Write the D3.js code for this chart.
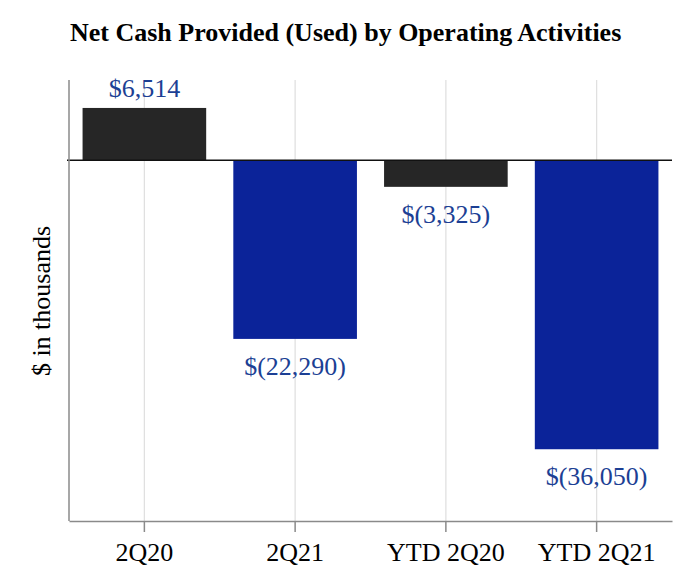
<!DOCTYPE html>
<html><head><meta charset="utf-8">
<script src="https://cdn.jsdelivr.net/npm/d3@7"></script>
<style>body{margin:0;background:#fff}</style>
</head><body>
<svg id="c" width="692" height="586"></svg>
<script>
const categories = ["2Q20", "2Q21", "YTD 2Q20", "YTD 2Q21"];
const values = [6514, -22290, -3325, -36050];
const labels = ["$6,514", "$(22,290)", "$(3,325)", "$(36,050)"];
const barColors = ["#262626", "#0b2399", "#262626", "#0b2399"];

const svg = d3.select("#c");
const font = "'Liberation Serif','Times New Roman',serif";
const L = 69, R = 672, T = 80, B = 521;

const x = d3.scaleBand().domain(categories).range([L, R]).paddingInner(0.18).paddingOuter(0.09);
const y = d3.scaleLinear().domain([-45000, 10000]).range([B, T]);

// gridlines
svg.append("g").selectAll("line").data(categories).join("line")
  .attr("x1", d => x(d) + x.bandwidth()/2).attr("x2", d => x(d) + x.bandwidth()/2)
  .attr("y1", T).attr("y2", B).attr("stroke", "#e0e0e0").attr("stroke-width", 1.3);

// bars
svg.append("g").selectAll("rect").data(values).join("rect")
  .attr("x", (d,i) => x(categories[i]))
  .attr("width", x.bandwidth())
  .attr("y", d => y(Math.max(0, d)))
  .attr("height", d => Math.abs(y(d) - y(0)))
  .attr("fill", (d,i) => barColors[i]);

// zero line
svg.append("line").attr("x1", L - 2).attr("x2", R).attr("y1", y(0)).attr("y2", y(0))
  .attr("stroke", "#111").attr("stroke-width", 1.5);

// left axis
svg.append("line").attr("x1", L).attr("x2", L).attr("y1", T).attr("y2", B)
  .attr("stroke", "#8a8a8a").attr("stroke-width", 1.5);

// bottom axis
const xAxis = d3.axisBottom(x).tickSize(11).tickSizeOuter(0).tickPadding(11);
const gx = svg.append("g").attr("transform", `translate(0,${B})`).call(xAxis);
gx.select(".domain").attr("stroke", "#8a8a8a").attr("stroke-width", 1.5);
gx.selectAll(".tick line").attr("stroke", "#8a8a8a").attr("stroke-width", 1.5);
gx.selectAll(".tick text").attr("font-family", font).attr("font-size", 26).attr("fill", "#000");

// value labels
svg.append("g").selectAll("text").data(values).join("text")
  .attr("x", (d,i) => x(categories[i]) + x.bandwidth()/2)
  .attr("y", d => d >= 0 ? y(d) - 11 : y(d) + 36)
  .attr("text-anchor", "middle")
  .attr("font-family", font).attr("font-size", 26).attr("fill", "#1c3f94")
  .text((d,i) => labels[i]);

// title
svg.append("text").attr("x", 70).attr("y", 41)
  .attr("font-family", font).attr("font-size", 26).attr("font-weight", "bold").attr("fill", "#000")
  .text("Net Cash Provided (Used) by Operating Activities");

// y label
svg.append("text").attr("transform", "translate(50,301) rotate(-90)")
  .attr("text-anchor", "middle")
  .attr("font-family", font).attr("font-size", 26).attr("fill", "#000")
  .text("$ in thousands");
</script>
</body></html>
